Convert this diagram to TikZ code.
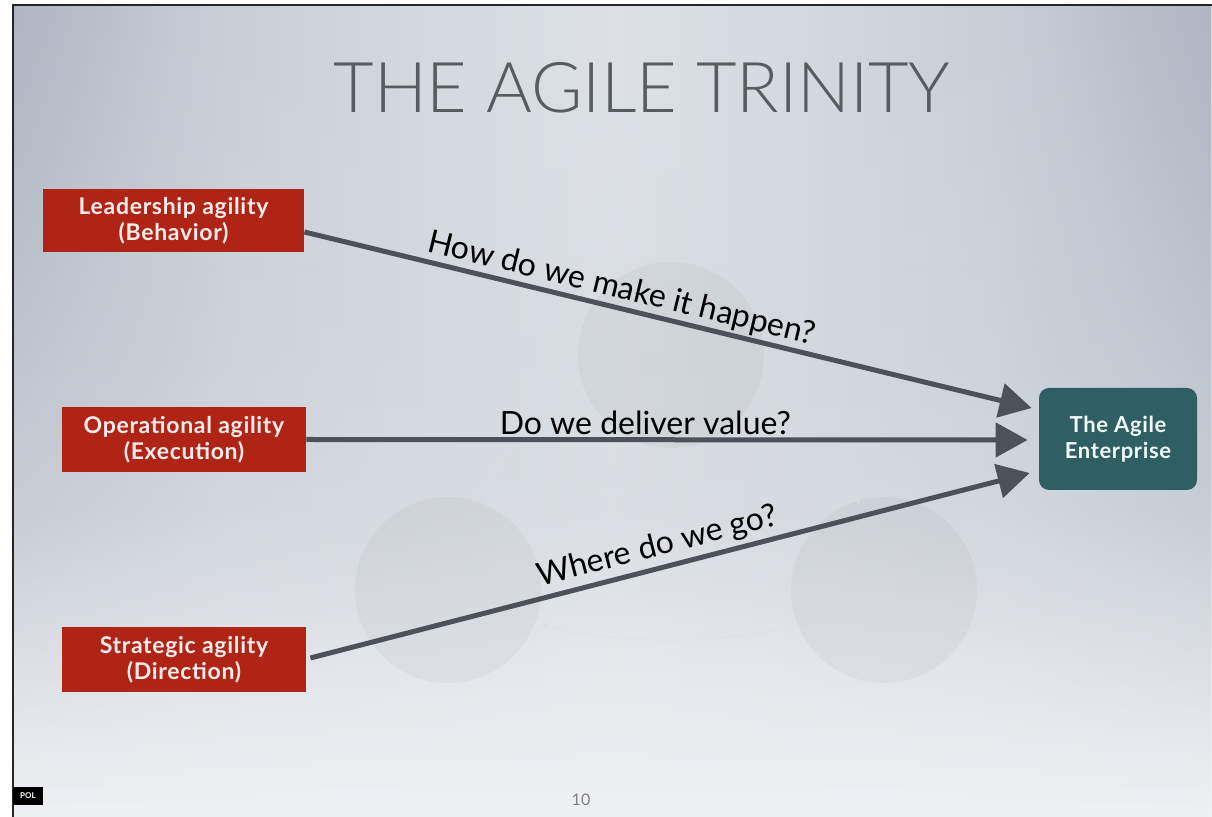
\documentclass[tikz,border=0pt]{standalone}
\usepackage{fontspec}
\setmainfont{Lato}
\newfontfamily\titlefont{Lato Light}
\newfontfamily\labelfont{Lato}
\newfontfamily\boxfont{Lato Bold}[LetterSpace=3]
\usetikzlibrary{arrows.meta,fadings,calc}
\definecolor{boxred}{HTML}{B02416}
\definecolor{entteal}{HTML}{2F5F63}
\definecolor{arrowgray}{HTML}{4D525A}
\definecolor{titlegray}{HTML}{585B60}
\definecolor{bgA}{HTML}{F0F1F4}
\definecolor{bgB}{HTML}{E7E9ED}
\definecolor{bgC}{HTML}{D8DCE2}
\definecolor{bgD}{HTML}{D4D9DF}
\definecolor{bgE}{HTML}{D6DBE1}
\definecolor{sideD}{HTML}{ADB6C1}
\definecolor{sideM}{HTML}{C9CFD7}
\definecolor{sideL}{HTML}{DEE2E7}
\pgfdeclareverticalshading{bgvert}{100bp}{color(0bp)=(bgA); color(25bp)=(bgA); color(35bp)=(bgB); color(44bp)=(bgC); color(54bp)=(bgD); color(75bp)=(bgE); color(100bp)=(bgE)}
\pgfdeclarehorizontalshading{bgsides}{100bp}{color(0bp)=(sideD); color(25bp)=(sideD); color(34bp)=(sideM); color(50bp)=(sideL); color(66bp)=(sideM); color(75bp)=(sideD); color(100bp)=(sideD)}
\tikzfading[name=fadesouth, top color=transparent!0, middle color=transparent!20, bottom color=transparent!100]
\begin{document}
\begin{tikzpicture}[x=0.5pt,y=-0.5pt,
  redbox/.style={fill=boxred, text=white!93!red, font=\boxfont\fontsize{11.5}{13}\selectfont, align=center, inner sep=0pt},
  entbox/.style={fill=entteal, text=white!95!teal, rounded corners=5pt, font=\boxfont\fontsize{11}{13}\selectfont, align=center, inner sep=0pt},
  conn/.style={draw=arrowgray, line width=2.5pt, -{Triangle[length=16pt,width=17pt]}},
  qlabel/.style={font=\labelfont\fontsize{16}{18}\selectfont, text=black, inner sep=1pt},
  faintcirc/.style={fill=black, fill opacity=0.03},
  faintarc/.style={draw=white!75!gray, opacity=0.45, line width=0.6pt, -{Stealth[length=4pt]}}
]
\useasboundingbox (0,0) rectangle (1212,817);
\fill[white] (0,0) rectangle (1212,817);
\shade[shading=bgvert] (14,6) rectangle (1212,817);
\shade[shading=bgsides, path fading=fadesouth] (14,6) rectangle (1212,817);
\draw[black!85, line width=1pt] (13,817) -- (13,5) -- (1212,5);

% faint trinity circles
\fill[faintcirc] (671,355) circle[radius=93];
\fill[faintcirc] (448,590) circle[radius=93];
\fill[faintcirc] (884,590) circle[radius=93];
\draw[faintarc] (472,505) .. controls (500,455) and (540,415) .. (582,393);
\draw[faintarc] (760,393) .. controls (800,420) and (840,460) .. (860,505);
\draw[faintarc] (800,625) .. controls (720,645) and (620,645) .. (540,625);

% title
\node[font=\titlefont\fontsize{35}{40}\selectfont, text=titlegray] (title) at (642,88) {THE AGILE TRINITY};

% boxes
\node[redbox, minimum width=130.5pt, minimum height=31.5pt] (lead) at (173.5,220.5) {Leadership agility\\(Behavior)};
\node[redbox, minimum width=122pt, minimum height=32.5pt] (oper) at (184,439.5) {Operational agility\\(Execution)};
\node[redbox, minimum width=122pt, minimum height=32.5pt] (strat) at (184,659.5) {Strategic agility\\(Direction)};
\node[entbox, minimum width=79pt, minimum height=51pt] (ent) at (1118,439) {The Agile\\Enterprise};

% connectors
\draw[conn] ([shift={(0,11.5)}]lead.east) -- node[qlabel, pos=0.43, sloped, above=0pt] (q1) {How do we make it happen?} ([shift={(-7,-31)}]ent.west);
\draw[conn] (oper.east) -- node[qlabel, pos=0.47, above=0pt] (q2) {Do we deliver value?} ([shift={(-11,1)}]ent.west);
\draw[conn] ([shift={(4,-1.5)}]strat.east) -- node[qlabel, pos=0.49, sloped, above=1pt] (q3) {Where do we go?} ([shift={(-9,34)}]ent.west);

% footer
\node[fill=black, text=white, font=\bfseries\fontsize{4}{5}\selectfont, minimum width=15pt, minimum height=9pt, inner sep=0pt] (pol) at (28,796) {POL};
\node[text=black!50, font=\fontsize{8}{9}\selectfont] (pnum) at (581,800) {10};
\end{tikzpicture}
\end{document}
